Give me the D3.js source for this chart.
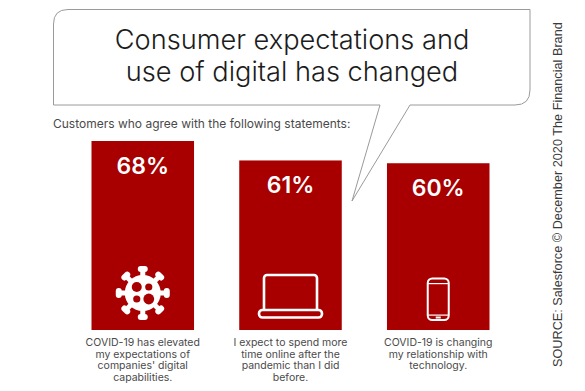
<!DOCTYPE html>
<html><head><meta charset="utf-8">
<script src="https://cdn.jsdelivr.net/npm/d3@7/dist/d3.min.js"></script>
<style>html,body{margin:0;padding:0;background:#fff}svg{display:block}text{font-family:"Inter","Open Sans",sans-serif}</style>
</head><body><div id="c"></div>
<script>
const categories = ["a","b","c"];
const values = [68,61,60];
const valueLabels = ["68%","61%","60%"];
const captions = [
 ["COVID-19 has elevated","my expectations of","companies' digital","capabilities."],
 ["I expect to spend more","time online after the","pandemic than I did","before."],
 ["COVID-19 is changing","my relationship with","technology."]];
const titleLines = ["Consumer expectations and","use of digital has changed"];
const subtitle = "Customers who agree with the following statements:";
const source = "SOURCE: Salesforce \u00A9 December 2020 The Financial Brand";

const RED="#a80000", GREY="#4a4a4a";
const svg=d3.select("#c").append("svg").attr("width",585).attr("height",391);
const x=d3.scaleBand().domain(categories).range([91.5,489.5]).paddingInner(0.306);
const y=d3.scaleLinear().domain([0,68]).range([330,141]);
const cx=i=>x(categories[i])+x.bandwidth()/2;

// speech bubble
svg.append("path").attr("fill","#fff").attr("stroke","#9a9a9a").attr("stroke-width",1)
 .attr("d","M53.5 24 Q53.5 9.5 68 9.5 L530 9.5 L530 90 Q530 105 515 105 L410 105 L352 201 L380 105 L53.5 105 Z");

svg.append("g").selectAll("text").data(titleLines).join("text")
 .attr("x",292).attr("y",(d,i)=>48.5+i*32).attr("text-anchor","middle")
 .attr("font-size",27.2).attr("fill","#1c1c1c").attr("font-weight",300).text(d=>d);

svg.append("text").attr("x",53).attr("y",128).attr("font-size",12).attr("fill",GREY).text(subtitle);

svg.append("g").selectAll("rect").data(values).join("rect")
 .attr("x",(d,i)=>x(categories[i])).attr("y",d=>y(d)).attr("width",x.bandwidth())
 .attr("height",d=>y(0)-y(d)).attr("fill",RED);

svg.append("g").selectAll("text").data(values).join("text")
 .attr("x",(d,i)=>cx(i)).attr("y",d=>y(d)+33)
 .attr("text-anchor","middle").attr("font-size",23).attr("font-weight",600).attr("fill","#fff")
 .text((d,i)=>valueLabels[i]);

// captions
captions.forEach((ls,i)=>{
 svg.append("g").selectAll("text").data(ls).join("text")
  .attr("x",cx(i)).attr("y",(d,j)=>346+j*11.6)
  .attr("text-anchor","middle").attr("font-size",10.5).attr("fill",GREY).text(d=>d);
});

// virus icon
const v=svg.append("g").attr("transform",`translate(${cx(0)},293)`);
d3.range(8).forEach(k=>{
 const sp=v.append("g").attr("transform",`rotate(${k*45})`);
 sp.append("rect").attr("x",-2.5).attr("y",-24).attr("width",5).attr("height",10).attr("fill","#fff");
 sp.append("rect").attr("x",-5).attr("y",-27).attr("width",10).attr("height",6).attr("rx",3).attr("fill","#fff");
});
v.append("circle").attr("r",18).attr("fill","#fff");
[[-6,-6,5],[6,-6,3.6],[-6,6,3.6],[6,6,5.4]].forEach(c=>
 v.append("circle").attr("cx",c[0]).attr("cy",c[1]).attr("r",c[2]).attr("fill",RED));

// laptop icon
const l=svg.append("g").attr("transform",`translate(${cx(1)},296)`);
l.append("rect").attr("x",-26.5).attr("y",-21).attr("width",53).attr("height",38).attr("rx",3)
 .attr("fill","none").attr("stroke","#fff").attr("stroke-width",2.6);
l.append("rect").attr("x",-31.5).attr("y",14).attr("width",63).attr("height",7.5).attr("rx",3.5)
 .attr("fill",RED).attr("stroke","#fff").attr("stroke-width",2.6);

// phone icon
const p=svg.append("g").attr("transform",`translate(${cx(2)},299)`);
p.append("rect").attr("x",-10.5).attr("y",-20.5).attr("width",21).attr("height",41.5).attr("rx",4.5)
 .attr("fill","none").attr("stroke","#fff").attr("stroke-width",2);
p.append("rect").attr("x",-10.5).attr("y",-16).attr("width",21).attr("height",1.2).attr("fill","#fff");
p.append("rect").attr("x",-10.5).attr("y",15.5).attr("width",21).attr("height",1.2).attr("fill","#fff");
p.append("rect").attr("x",-2.5).attr("y",17.5).attr("width",5).attr("height",2).attr("fill","#fff");

svg.append("text").attr("transform","translate(562,367) rotate(-90)")
 .attr("style","font-family:'Liberation Sans',sans-serif").attr("font-size",12.7).attr("fill","#3a3a3a").text(source);
</script></body></html>
